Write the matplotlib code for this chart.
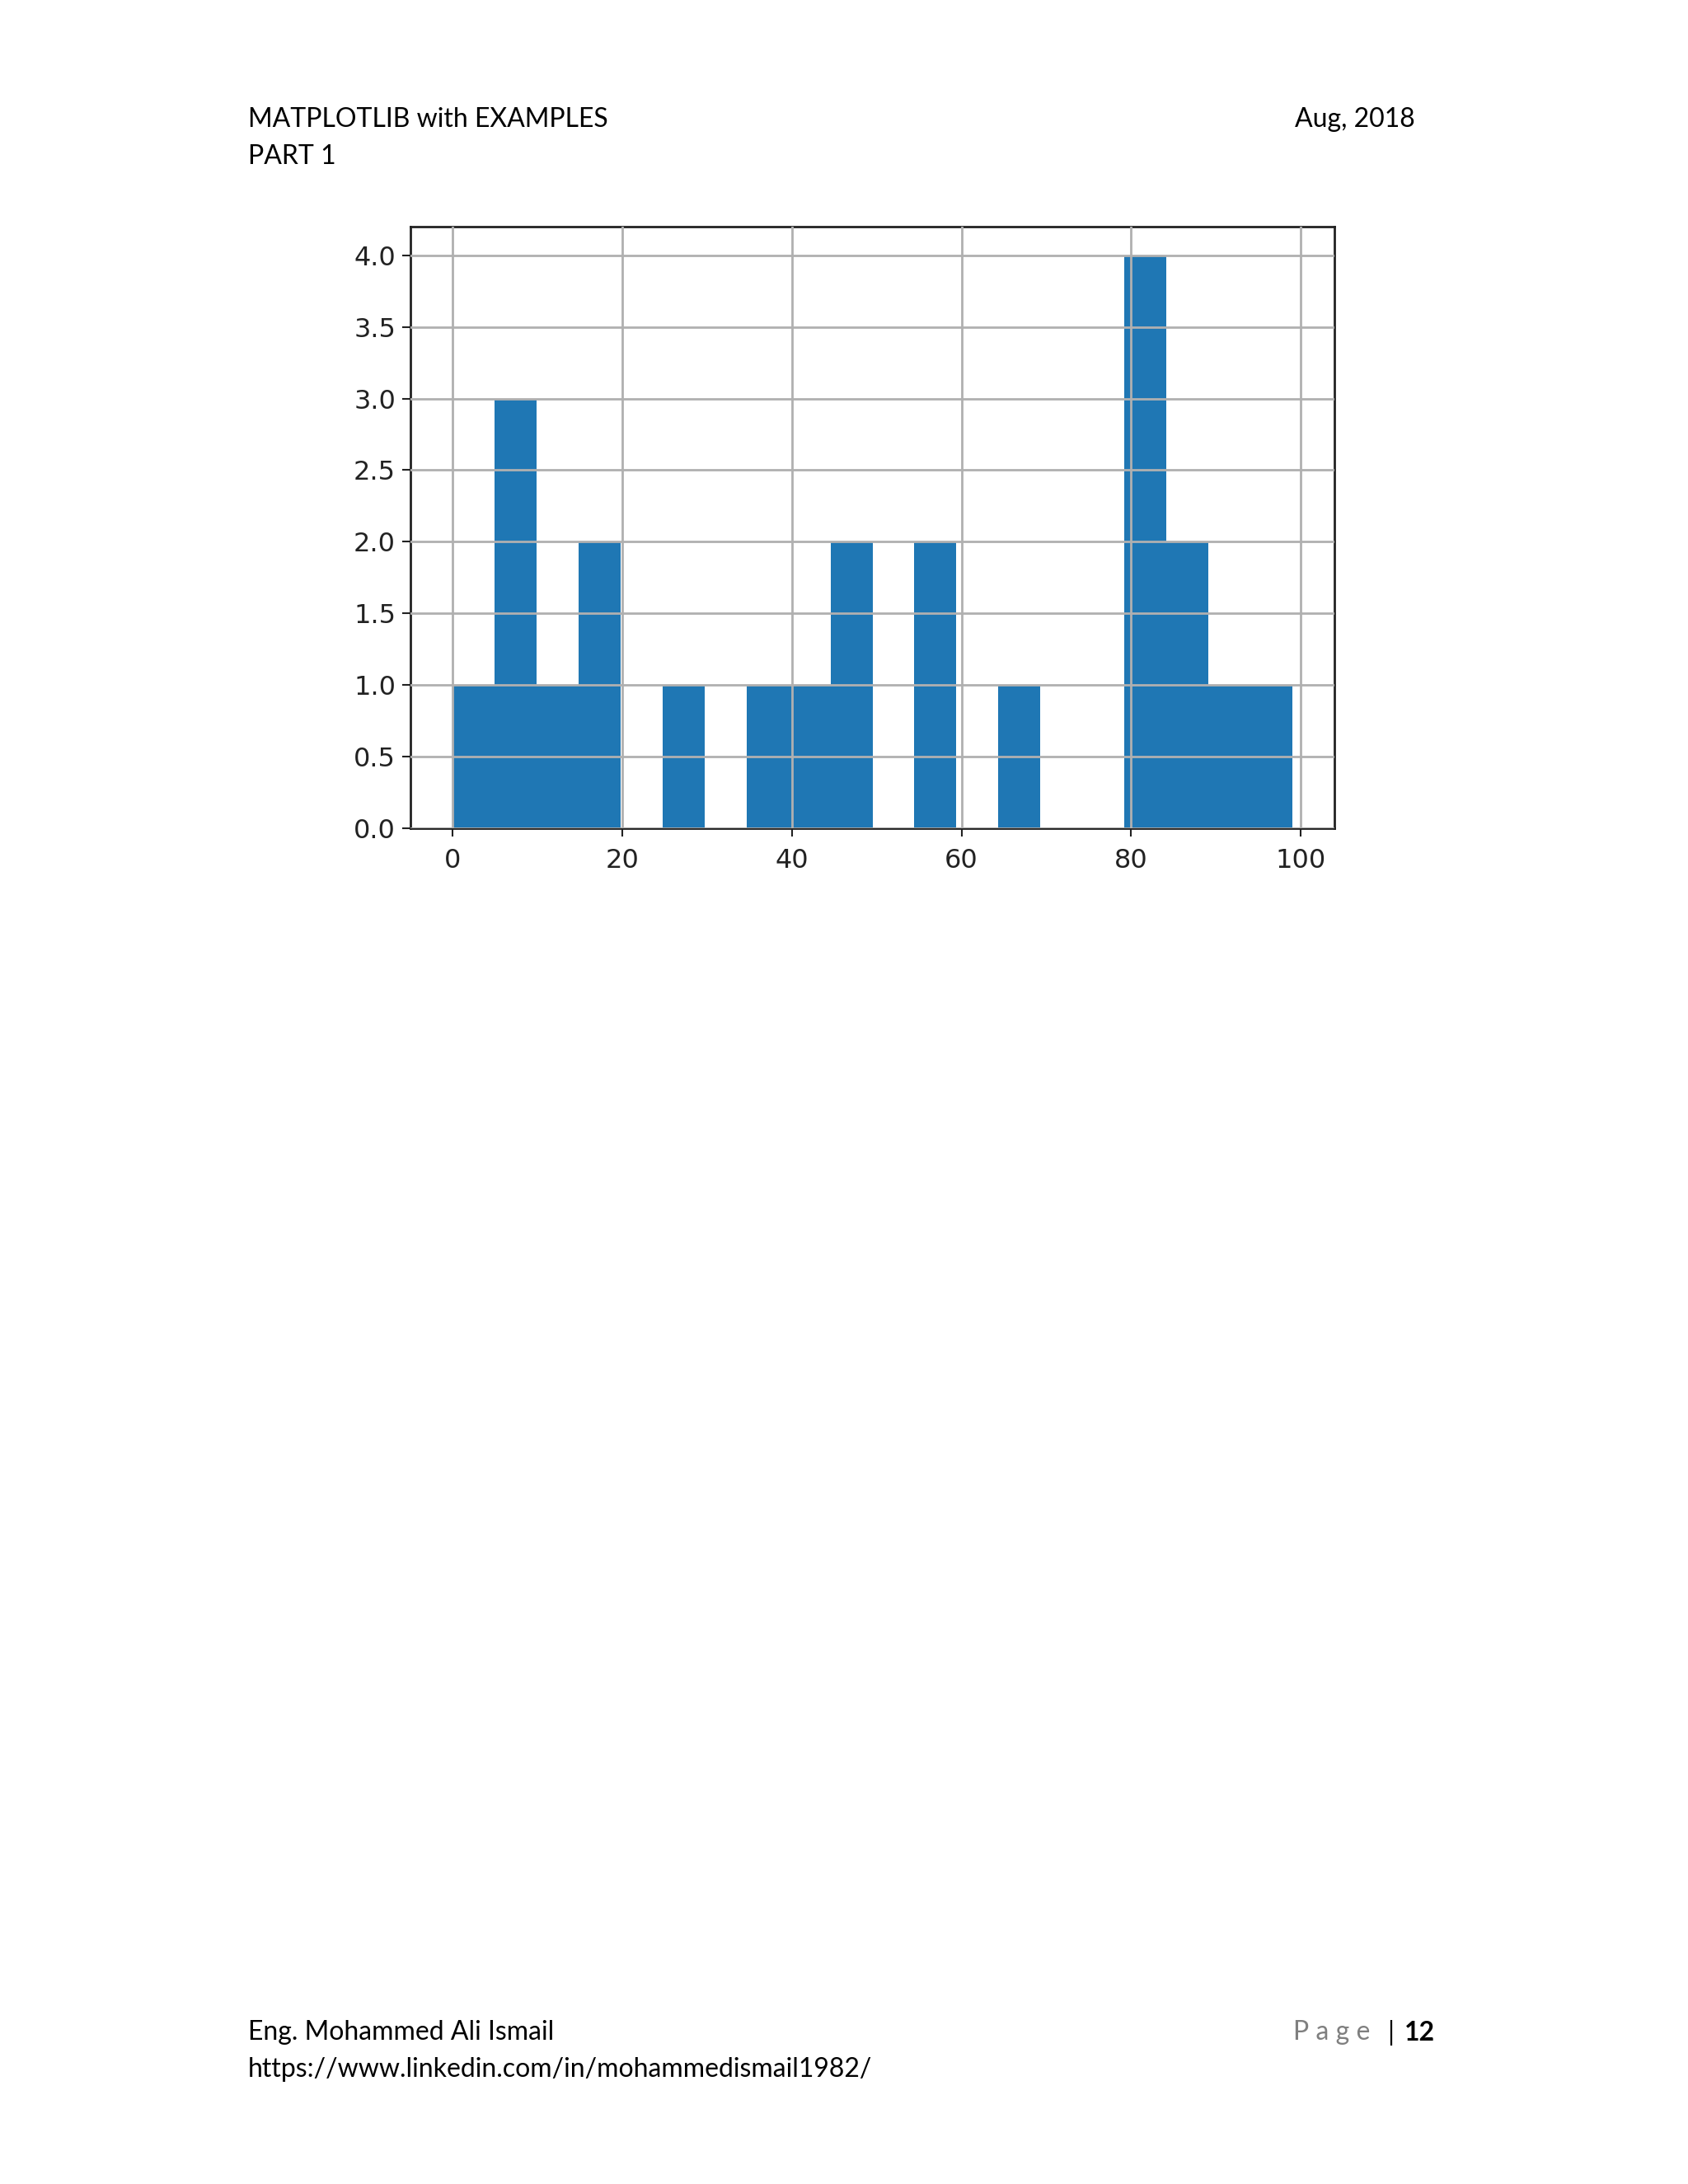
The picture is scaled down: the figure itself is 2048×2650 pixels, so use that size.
import numpy as np
import matplotlib
matplotlib.use("Agg")
import matplotlib.pyplot as plt

# Data: histogram of 20 bins over range 0..99
bin_edges = np.linspace(0, 99, 21)
counts = [1, 3, 1, 2, 0, 1, 0, 1, 1, 2, 0, 2, 0, 1, 0, 0, 4, 2, 1, 1]
x_ticks = [0, 20, 40, 60, 80, 100]
y_ticks = [0.0, 0.5, 1.0, 1.5, 2.0, 2.5, 3.0, 3.5, 4.0]

header_left = ["MATPLOTLIB with EXAMPLES", "PART 1"]
header_right = "Aug, 2018"
footer_left = ["Eng. Mohammed Ali Ismail", "https://www.linkedin.com/in/mohammedismail1982/"]
page_label = "P a g e"
page_number = "12"

W, H = 2048, 2650
fig = plt.figure(figsize=(W / 100, H / 100), dpi=100)
fig.patch.set_facecolor("white")

# Axes position in pixels: left 498, right 1619, top 275, bottom 1005
ax = fig.add_axes([498 / W, 1 - 1005 / H, (1619 - 498) / W, (1005 - 275) / H])
widths = np.diff(bin_edges)
ax.bar(bin_edges[:-1], counts, width=widths, align="edge", color="#1f77b4", linewidth=0)
ax.set_xlim(-4.95, 103.95)
ax.set_ylim(0, 4.2)
ax.set_xticks(x_ticks)
ax.set_yticks(y_ticks)
ax.set_xticklabels([str(t) for t in x_ticks])
ax.set_yticklabels([f"{t:.1f}" for t in y_ticks])
ax.grid(True, color="#b0b0b0", linewidth=2.0)
ax.set_axisbelow(False)
ax.tick_params(labelsize=23, length=7, width=1.5, colors="#222222", pad=6)
ax.tick_params(axis="x", pad=10)
for s in ax.spines.values():
    s.set_linewidth(2.0)
    s.set_color("#222222")

font = "Lato"
fs = 23
fig.text(301 / W, 1 - 145 / H, header_left[0], fontsize=fs, family=font, va="center", ha="left")
fig.text(301 / W, 1 - 190 / H, header_left[1], fontsize=fs, family=font, va="center", ha="left")
fig.text(1717 / W, 1 - 145 / H, header_right, fontsize=fs, family=font, va="center", ha="right")
fig.text(301 / W, 1 - 2466 / H, footer_left[0], fontsize=fs, family=font, va="center", ha="left")
fig.text(301 / W, 1 - 2511 / H, footer_left[1], fontsize=fs, family=font, va="center", ha="left")
fig.text(1741 / W, 1 - 2466 / H, page_number, fontsize=fs, family=font, weight="bold", va="center", ha="right")
fig.text(1687 / W, 1 - 2466 / H, "|", fontsize=fs, family=font, va="center", ha="center")
fig.text(1662 / W, 1 - 2466 / H, page_label, fontsize=fs, family=font, color="#7f7f7f", va="center", ha="right")

fig.savefig("out.png", dpi=100, facecolor="white")
